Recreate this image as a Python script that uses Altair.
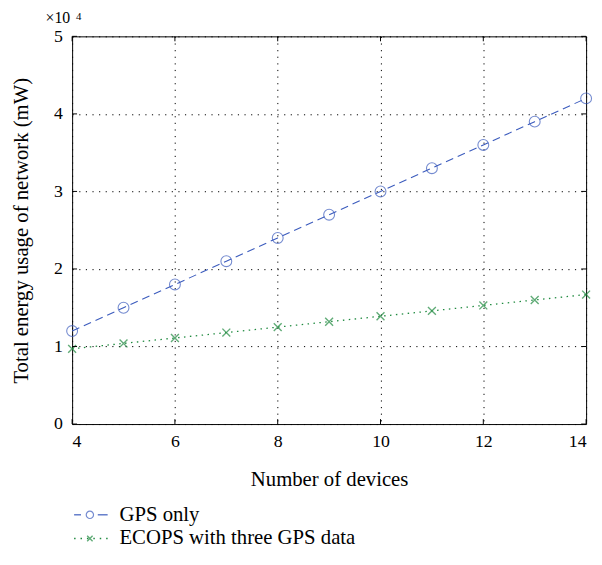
import altair as alt
import pandas as pd

devices = [4, 5, 6, 7, 8, 9, 10, 11, 12, 13, 14]
gps_only = [12000, 15000, 18000, 21000, 24000, 27000, 30000, 33000, 36000, 39000, 42000]
ecops = [9700, 10400, 11100, 11800, 12500, 13200, 13900, 14600, 15300, 16000, 16700]
series_names = ["GPS only", "ECOPS with three GPS data"]
x_ticks = [4, 6, 8, 10, 12, 14]
y_ticks = [0, 10000, 20000, 30000, 40000, 50000]

W, H = 521, 393
FONT = "Liberation Serif, Times New Roman, DejaVu Serif, serif"
BLUE = "#3b5bbd"
GREEN = "#1f8a3f"
XSHAPE = "M-1,-1L1,1M-1,1L1,-1"

df = pd.DataFrame({"devices": devices, "gps": gps_only, "ecops": ecops})
xt = pd.DataFrame({"v": x_ticks})
yt = pd.DataFrame({"v": y_ticks})

xscale = alt.Scale(domain=[4, 14], nice=False, zero=False)
yscale = alt.Scale(domain=[0, 50000], nice=False)

xaxis = alt.Axis(values=x_ticks, title="Number of devices", grid=True, gridDash=[1.2, 5.5],
                 gridColor="#000", gridOpacity=1, gridWidth=1, ticks=False, domain=False,
                 labelPadding=9, titlePadding=18)
yaxis = alt.Axis(values=y_ticks, title="Total energy usage of network (mW)", grid=True,
                 gridDash=[1.2, 5.5], gridColor="#000", gridOpacity=1, gridWidth=1,
                 ticks=False, domain=False, labelExpr="datum.value / 10000",
                 labelPadding=10, titlePadding=22)

base = alt.Chart(df)

grid = base.mark_point(opacity=0).encode(
    x=alt.X("devices:Q", scale=xscale, axis=xaxis),
    y=alt.Y("gps:Q", scale=yscale, axis=yaxis),
)

gps_line = base.mark_line(color=BLUE, strokeDash=[8, 5], strokeWidth=1.1).encode(
    x=alt.X("devices:Q", scale=xscale), y=alt.Y("gps:Q", scale=yscale))
gps_pts = base.mark_point(shape="circle", size=121, color=BLUE, strokeWidth=1.1, filled=False).encode(
    x=alt.X("devices:Q", scale=xscale), y=alt.Y("gps:Q", scale=yscale))

eco_line = base.mark_line(color=GREEN, strokeDash=[1.5, 4.5], strokeWidth=1.3).encode(
    x=alt.X("devices:Q", scale=xscale), y=alt.Y("ecops:Q", scale=yscale))
eco_pts = base.mark_point(shape=XSHAPE, size=64, color=GREEN, strokeWidth=1.4, filled=False).encode(
    x=alt.X("devices:Q", scale=xscale), y=alt.Y("ecops:Q", scale=yscale))

tick_len = 5
xt_bot = alt.Chart(xt).mark_rule(color="#000").encode(
    x=alt.X("v:Q", scale=xscale), y=alt.value(H), y2=alt.value(H - tick_len))
xt_top = alt.Chart(xt).mark_rule(color="#000").encode(
    x=alt.X("v:Q", scale=xscale), y=alt.value(0), y2=alt.value(tick_len))
yt_left = alt.Chart(yt).mark_rule(color="#000").encode(
    y=alt.Y("v:Q", scale=yscale), x=alt.value(0), x2=alt.value(tick_len))
yt_right = alt.Chart(yt).mark_rule(color="#000").encode(
    y=alt.Y("v:Q", scale=yscale), x=alt.value(W), x2=alt.value(W - tick_len))

mult = pd.DataFrame({"t": ["×10"], "e": ["4"]})
mult_txt = alt.Chart(mult).mark_text(font=FONT, fontSize=16, align="left", baseline="alphabetic",
                                     color="#000").encode(
    text="t:N", x=alt.value(-27), y=alt.value(-14))
mult_exp = alt.Chart(mult).mark_text(font=FONT, fontSize=11, align="left", baseline="alphabetic",
                                     color="#000").encode(
    text="e:N", x=alt.value(4), y=alt.value(-17))

leg1 = pd.DataFrame({"label": [series_names[0]]})
leg2 = pd.DataFrame({"label": [series_names[1]]})
LY1, LY2 = 485, 509
leg_layers = [
    alt.Chart(leg1).mark_rule(color=BLUE, strokeWidth=1.2).encode(
        x=alt.value(2), x2=alt.value(9), y=alt.value(LY1)),
    alt.Chart(leg1).mark_rule(color=BLUE, strokeWidth=1.2).encode(
        x=alt.value(26), x2=alt.value(36), y=alt.value(LY1)),
    alt.Chart(leg1).mark_point(shape="circle", size=55, color=BLUE, strokeWidth=1.2).encode(
        x=alt.value(18), y=alt.value(LY1)),
    alt.Chart(leg1).mark_text(font=FONT, fontSize=21, align="left", baseline="middle", color="#000").encode(
        text="label:N", x=alt.value(48), y=alt.value(LY1)),
    alt.Chart(leg2).mark_rule(color=GREEN, strokeDash=[1.5, 5], strokeWidth=1.3).encode(
        x=alt.value(2), x2=alt.value(37), y=alt.value(LY2)),
    alt.Chart(leg2).mark_point(shape=XSHAPE, size=30, color=GREEN, strokeWidth=1.4).encode(
        x=alt.value(18), y=alt.value(LY2)),
    alt.Chart(leg2).mark_text(font=FONT, fontSize=21, align="left", baseline="middle", color="#000").encode(
        text="label:N", x=alt.value(48), y=alt.value(LY2)),
]

chart = alt.layer(
    grid, gps_line, eco_line, gps_pts, eco_pts,
    xt_bot, xt_top, yt_left, yt_right, mult_txt, mult_exp, *leg_layers
).properties(
    width=W, height=H,
    autosize=alt.AutoSizeParams(type="none"),
    padding={"left": 65, "top": 25, "right": 8, "bottom": 130},
    background="white",
).configure_view(
    stroke="#000", strokeWidth=1,
).configure_axis(
    labelFont=FONT, titleFont=FONT, labelFontSize=18, titleFontSize=21,
    labelColor="#000", titleColor="#000", titleFontWeight="normal",
)

chart.save("out.html", embed_options={"renderer": "svg", "actions": False})
